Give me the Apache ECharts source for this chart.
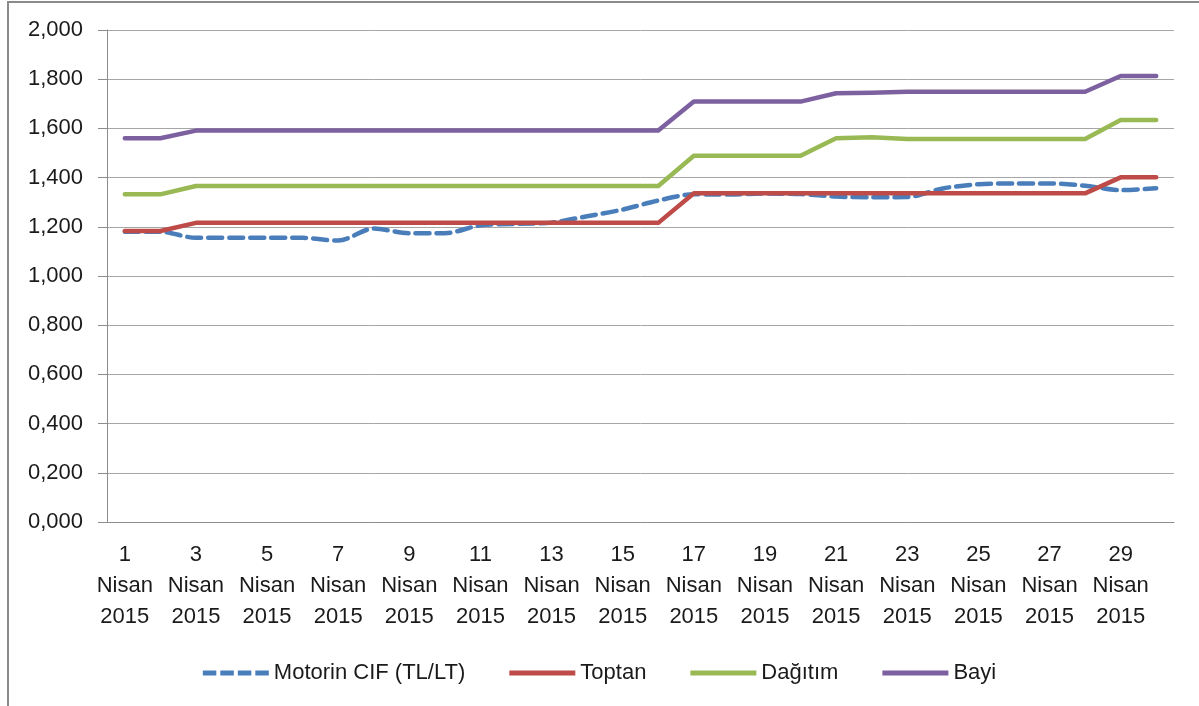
<!DOCTYPE html>
<html>
<head>
<meta charset="utf-8">
<script src="https://cdn.jsdelivr.net/npm/echarts@6/dist/echarts.min.js"></script>
<style>
  html, body { margin: 0; padding: 0; background: #fff; }
  #main { width: 1199px; height: 706px; }
</style>
</head>
<body>
<div id="main"></div>
<script>
// gün etiketleri (1-30 Nisan 2015)
var days = ['1', '2', '3', '4', '5', '6', '7', '8', '9', '10',
            '11', '12', '13', '14', '15', '16', '17', '18', '19', '20',
            '21', '22', '23', '24', '25', '26', '27', '28', '29', '30'];

// fiyatlar (TL/LT)
var motorinCif = [1.180, 1.180, 1.155, 1.155, 1.155, 1.155, 1.144, 1.193, 1.174, 1.174,
                  1.206, 1.212, 1.217, 1.243, 1.270, 1.307, 1.332, 1.331, 1.335, 1.333,
                  1.323, 1.320, 1.321, 1.356, 1.373, 1.376, 1.376, 1.367, 1.349, 1.357];
var toptan = [1.183, 1.183, 1.216, 1.216, 1.216, 1.216, 1.216, 1.216, 1.216, 1.216,
              1.216, 1.216, 1.216, 1.216, 1.216, 1.216, 1.336, 1.336, 1.336, 1.336,
              1.336, 1.336, 1.336, 1.336, 1.336, 1.336, 1.336, 1.336, 1.401, 1.401];
var dagitim = [1.332, 1.332, 1.366, 1.366, 1.366, 1.366, 1.366, 1.366, 1.366, 1.366,
               1.366, 1.366, 1.366, 1.366, 1.366, 1.366, 1.489, 1.489, 1.489, 1.489,
               1.560, 1.564, 1.557, 1.557, 1.557, 1.557, 1.557, 1.557, 1.634, 1.634];
var bayi = [1.560, 1.560, 1.591, 1.591, 1.591, 1.591, 1.591, 1.591, 1.591, 1.591,
            1.591, 1.591, 1.591, 1.591, 1.591, 1.591, 1.709, 1.709, 1.709, 1.709,
            1.743, 1.745, 1.749, 1.749, 1.749, 1.749, 1.749, 1.749, 1.813, 1.813];

var font = 'Liberation Sans';
var solidIcon = 'path://M0,0h66v5h-66z';
var dashIcon = 'path://M0,0h13.5v5h-13.5z M17.5,0h13.5v5h-13.5z M35,0h13.5v5h-13.5z M52.5,0h13.5v5h-13.5z';

var myChart = echarts.init(document.getElementById('main'));

myChart.setOption({
    animation: false,
    textStyle: { fontFamily: font },
    graphic: [{
        type: 'rect',
        shape: { x: 8, y: 2, width: 1300, height: 800 },
        style: { fill: null, stroke: '#8a8a8a', lineWidth: 2 },
        silent: true
    }],
    grid: { left: 107, right: 25, top: 30, bottom: 184 },
    legend: {
        bottom: 17,
        left: 'center',
        itemWidth: 66,
        itemHeight: 5,
        itemGap: 44,
        textStyle: { fontFamily: font, fontSize: 22, color: '#1a1a1a' },
        data: [
            { name: 'Motorin CIF (TL/LT)', icon: dashIcon },
            { name: 'Toptan', icon: solidIcon },
            { name: 'Dağıtım', icon: solidIcon },
            { name: 'Bayi', icon: solidIcon }
        ]
    },
    xAxis: {
        type: 'category',
        data: days,
        boundaryGap: true,
        axisLine: { lineStyle: { color: '#8c8c8c', width: 1 } },
        axisTick: { interval: 1, length: 8, lineStyle: { color: '#8c8c8c' } },
        axisLabel: {
            interval: 1,
            margin: 17,
            fontFamily: font,
            fontSize: 22,
            lineHeight: 31,
            color: '#1a1a1a',
            formatter: function (v) { return v + '\nNisan\n2015'; }
        },
        splitLine: { show: false }
    },
    yAxis: {
        type: 'value',
        min: 0,
        max: 2,
        interval: 0.2,
        axisLine: { show: true, lineStyle: { color: '#8c8c8c', width: 1 } },
        axisTick: { show: true, length: 9, lineStyle: { color: '#8c8c8c' } },
        axisLabel: {
            margin: 24,
            fontFamily: font,
            fontSize: 22,
            color: '#1a1a1a',
            formatter: function (v) { return v.toFixed(3).replace('.', ','); }
        },
        splitLine: { lineStyle: { color: '#a6a6a6', width: 1 } }
    },
    series: [
        {
            name: 'Motorin CIF (TL/LT)',
            type: 'line',
            data: motorinCif,
            smooth: 0.3,
            symbol: 'none',
            itemStyle: { color: '#4a7ebb' },
            lineStyle: { color: '#4a7ebb', width: 4.5, type: [14, 7], cap: 'round' }
        },
        {
            name: 'Toptan',
            type: 'line',
            data: toptan,
            symbol: 'none',
            itemStyle: { color: '#be4b48' },
            lineStyle: { color: '#be4b48', width: 4.5, join: 'round', cap: 'round' }
        },
        {
            name: 'Dağıtım',
            type: 'line',
            data: dagitim,
            symbol: 'none',
            itemStyle: { color: '#98b954' },
            lineStyle: { color: '#98b954', width: 4.5, join: 'round', cap: 'round' }
        },
        {
            name: 'Bayi',
            type: 'line',
            data: bayi,
            symbol: 'none',
            itemStyle: { color: '#7d60a0' },
            lineStyle: { color: '#7d60a0', width: 4.5, join: 'round', cap: 'round' }
        }
    ]
});
</script>
</body>
</html>
